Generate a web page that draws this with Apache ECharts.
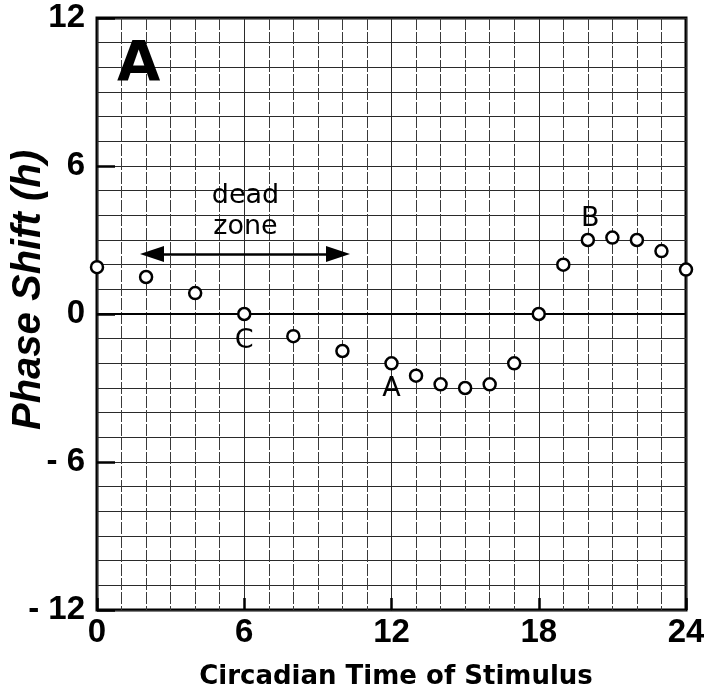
<!DOCTYPE html>
<html>
<head>
<meta charset="utf-8">
<script src="https://cdn.jsdelivr.net/npm/echarts@6/dist/echarts.min.js"></script>
<style>html,body{margin:0;padding:0;background:#fff}#chart{width:704px;height:694px}</style>
</head>
<body>
<div id="chart"></div>
<script>
// Data
const ctHours    = [0, 2, 4, 6, 8, 10, 12, 13, 14, 15, 16, 17, 18, 19, 20, 21, 22, 23, 24];
const phaseShift = [1.9, 1.5, 0.85, 0, -0.9, -1.5, -2.0, -2.5, -2.85, -3.0, -2.85, -2.0, 0, 2.0, 3.0, 3.1, 3.0, 2.55, 1.8];
const xTicks = [0, 6, 12, 18, 24];
const yTicks = [-12, -6, 0, 6, 12];
const annotationText = ['dead', 'zone', 'C', 'A', 'B'];
const annotationX    = [6.05, 6.05, 6, 12, 20.1];
const annotationY    = [4.78, 3.54, -1.1, -3.05, 3.85];
const deadZoneStart = [2.24, 2.43];
const deadZoneEnd   = [9.82, 2.43];

const chart = echarts.init(document.getElementById('chart'));
const gridLine = { color: '#2a2a2a', width: 1 };
const tickFont = { fontFamily: "'Liberation Sans Narrow', 'Liberation Sans', sans-serif", fontWeight: 'bold', fontSize: 33, color: '#000' };

chart.setOption({
  animation: false,
  backgroundColor: '#fff',
  title: {
    text: 'A', left: 117, top: 37, padding: 0,
    textStyle: { fontFamily: 'DejaVu Sans', fontWeight: 'bold', fontSize: 56, color: '#000' }
  },
  grid: { left: 97, right: 18, top: 18, bottom: 84, containLabel: false, outerBoundsMode: 'none',
          show: true, borderColor: '#000', borderWidth: 3, backgroundColor: 'transparent' },
  xAxis: {
    type: 'value', min: xTicks[0], max: xTicks[xTicks.length - 1], interval: 6,
    name: 'Circadian Time of Stimulus', nameLocation: 'middle', nameGap: 54, nameMoveOverlap: false,
    nameTextStyle: { fontFamily: 'DejaVu Sans', fontWeight: 'bold', fontSize: 26, color: '#000', padding: [0, 0, 0, 9] },
    axisLine: { show: false, onZero: false },
    axisTick: { show: true, inside: true, length: 12, lineStyle: { color: '#000', width: 2.5 } },
    axisLabel: Object.assign({ margin: 6, formatter: v => String(v) }, tickFont),
    splitLine: { show: true, lineStyle: gridLine },
    minorTick: { show: false, splitNumber: 6 },
    minorSplitLine: { show: true, lineStyle: { color: '#3a3a3a', width: 1, type: [12, 2] } }
  },
  yAxis: {
    type: 'value', min: yTicks[0], max: yTicks[yTicks.length - 1], interval: 6,
    name: 'Phase Shift (h)', nameLocation: 'middle', nameGap: 48, nameMoveOverlap: false,
    nameTextStyle: { fontFamily: 'Liberation Sans', fontWeight: 'bold', fontStyle: 'italic', fontSize: 40, color: '#000', padding: [0, 0, 0, 48] },
    axisLine: { show: false, onZero: false },
    axisTick: { show: true, inside: true, length: 18, lineStyle: { color: '#000', width: 2.5 } },
    axisLabel: Object.assign({ margin: 12, formatter: v => v < 0 ? '- ' + Math.abs(v) : String(v) }, tickFont),
    splitLine: { show: true, lineStyle: gridLine },
    minorTick: { show: false, splitNumber: 6 },
    minorSplitLine: { show: true, lineStyle: { color: '#2a2a2a', width: 1 } }
  },
  series: [
    {
      type: 'scatter', z: 10, clip: false,
      data: ctHours.map((h, i) => [h, phaseShift[i]]),
      symbol: 'circle', symbolSize: 12,
      itemStyle: { color: '#fff', borderColor: '#000', borderWidth: 2.5, opacity: 1 },
      markLine: {
        silent: true, symbol: 'none', label: { show: false },
        lineStyle: { color: '#000', width: 2, type: 'solid', opacity: 1 },
        data: [{ yAxis: 0 }]
      }
    },
    {
      type: 'scatter', z: 9, symbolSize: 1, silent: true,
      itemStyle: { color: 'transparent', opacity: 1 },
      data: annotationText.map((t, i) => ({ name: t, value: [annotationX[i], annotationY[i]] })),
      label: {
        show: true, position: 'inside', formatter: p => p.name,
        fontFamily: 'DejaVu Sans', fontSize: 27, color: '#000', textBorderWidth: 0, opacity: 1
      },
      markLine: {
        silent: true, symbol: ['triangle', 'triangle'], symbolSize: [16, 24], symbolOffset: [0, 0],
        label: { show: false },
        lineStyle: { color: '#000', width: 2.5, type: 'solid', opacity: 1 },
        data: [[{ coord: deadZoneStart }, { coord: deadZoneEnd }]]
      }
    }
  ]
});
</script>
</body>
</html>
